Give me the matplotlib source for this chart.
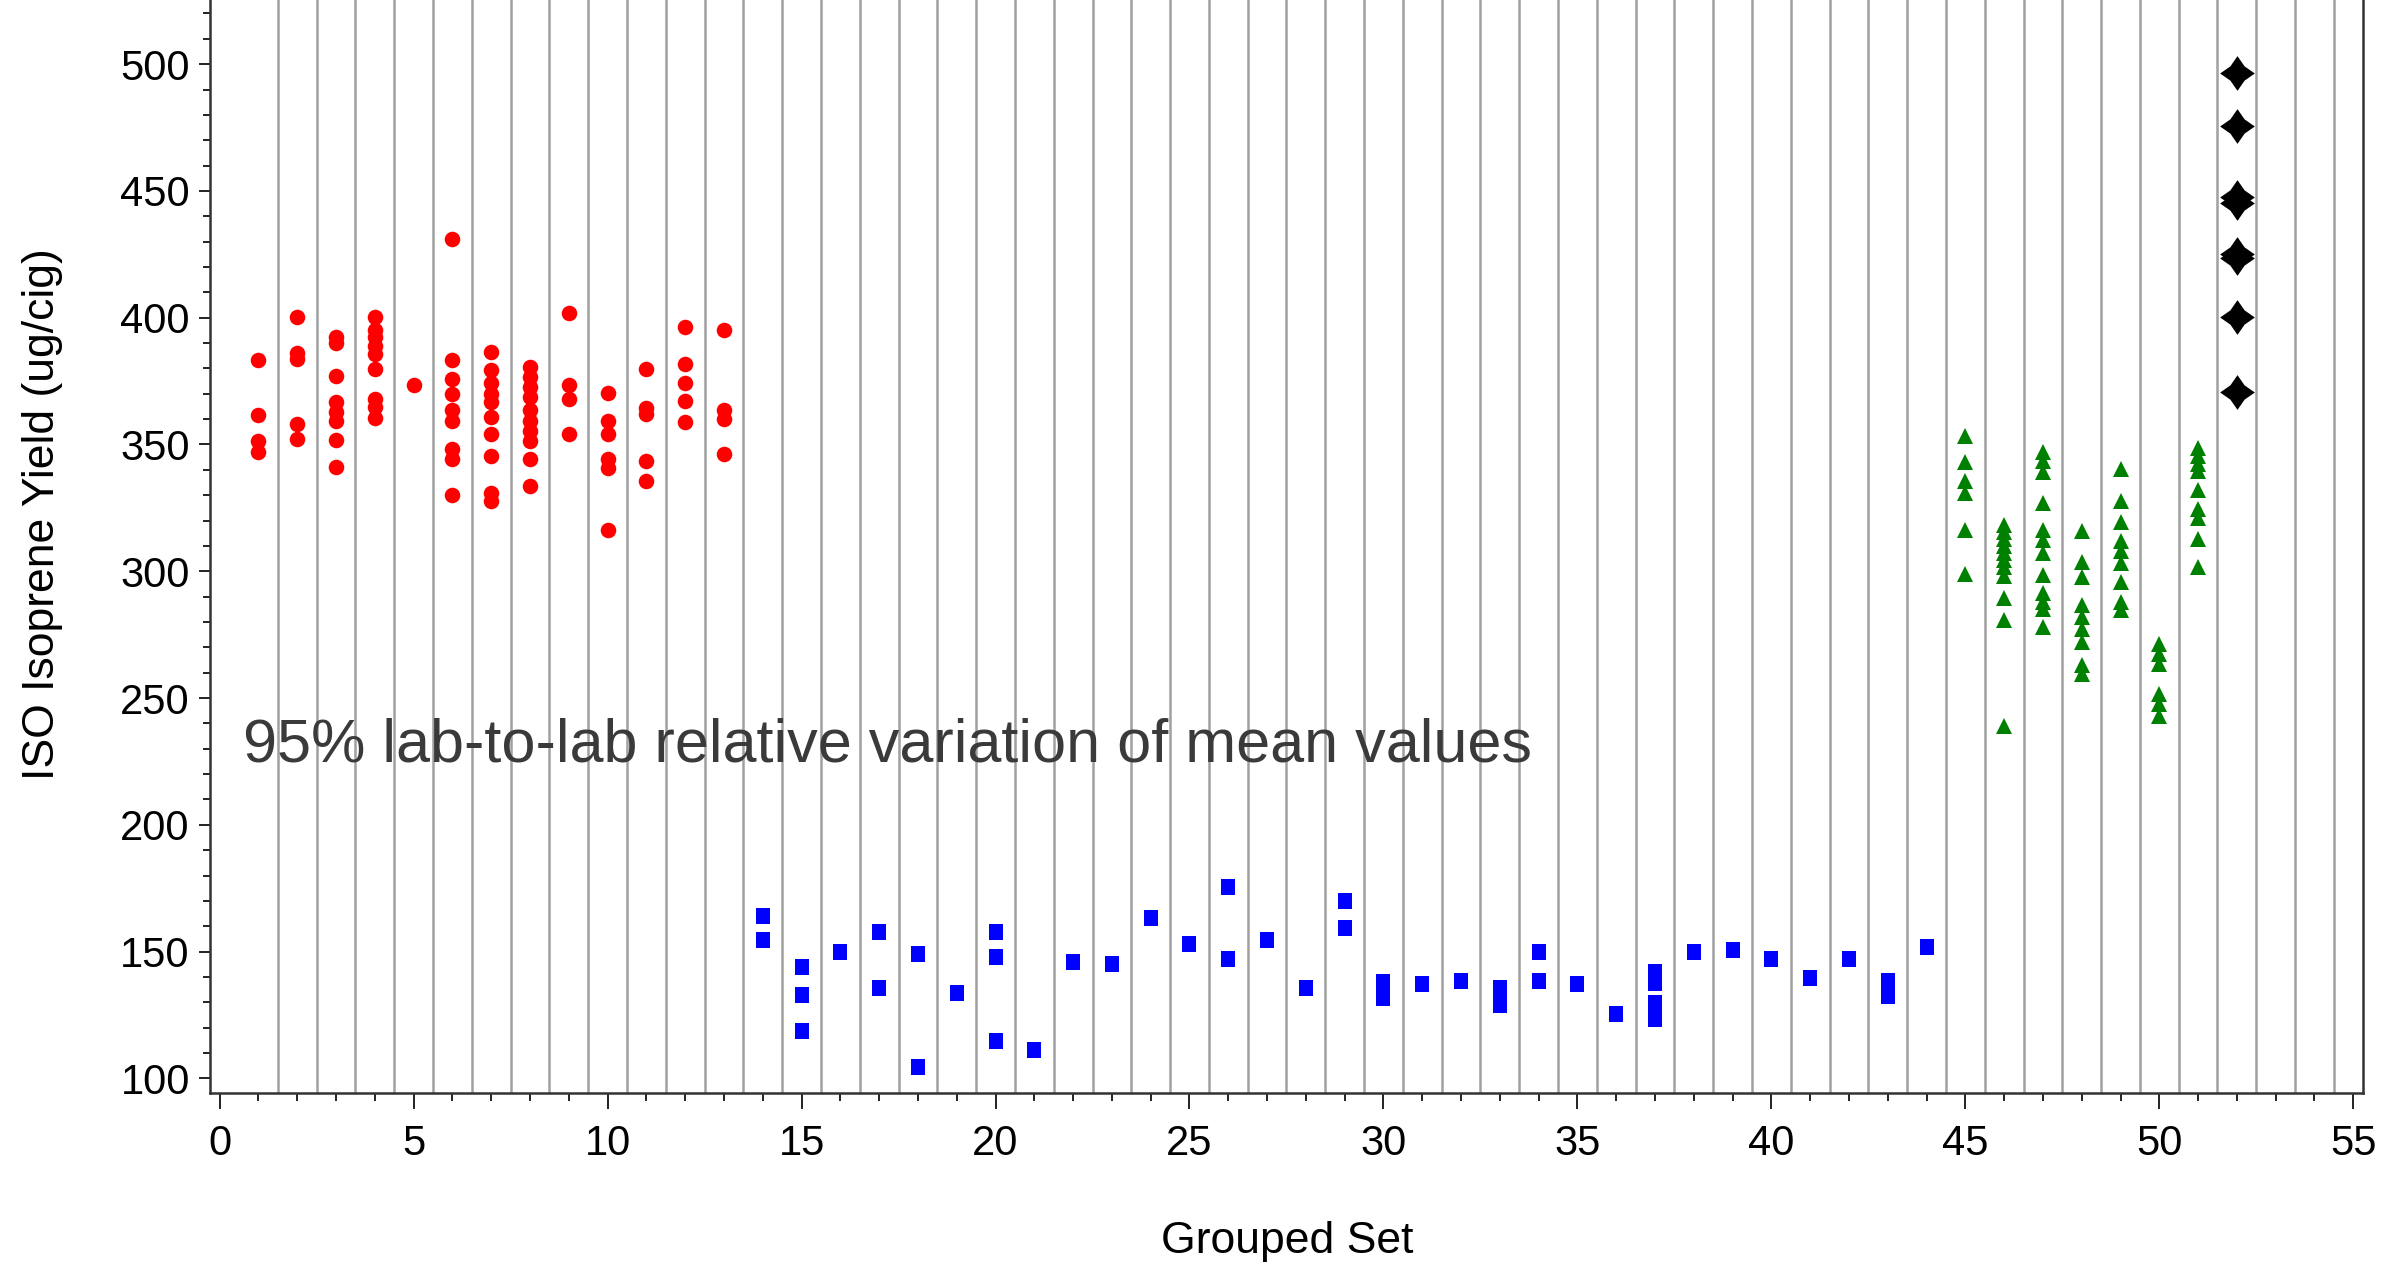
import numpy as np
import matplotlib
matplotlib.use('Agg')
import matplotlib.pyplot as plt
from matplotlib.path import Path
from matplotlib.ticker import MultipleLocator

plt.rcParams['font.family'] = ['Liberation Sans', 'DejaVu Sans']

# ISO isoprene yield (ug/cig) per grouped set
red_sets = list(range(1, 14))
red_vals = [
    [383.5, 361.7, 351.5, 347.2],
    [400.2, 386.1, 383.9, 358.1, 352.1],
    [392.2, 390.1, 376.9, 366.7, 362.7, 359.1, 351.7, 341.3],
    [400.4, 395.1, 392.2, 388.9, 385.6, 379.9, 368.0, 364.7, 360.5],
    [373.3],
    [431.1, 383.5, 376.0, 370.0, 363.4, 359.4, 348.2, 344.2, 330.0],
    [386.5, 379.2, 374.2, 370.0, 366.7, 360.7, 354.1, 345.5, 331.0, 327.9],
    [380.6, 376.6, 372.6, 368.7, 363.4, 359.4, 355.4, 351.5, 344.2, 333.6],
    [401.7, 373.3, 368.0, 354.1],
    [370.3, 359.1, 354.1, 344.2, 340.9, 316.4],
    [379.9, 364.4, 362.1, 343.5, 335.6],
    [396.4, 381.9, 374.2, 367.3, 358.7],
    [395.1, 363.4, 360.1, 346.2],
]

blue_sets = list(range(14, 45))
blue_vals = [
    [164.1, 154.5],
    [144.1, 132.7, 118.5],
    [149.9],
    [157.6, 135.6],
    [149.0, 104.3],
    [133.6],
    [157.6, 147.9, 114.7],
    [111.0],
    [146.0],
    [145.0],
    [163.1],
    [152.8],
    [175.5, 147.0],
    [154.5],
    [135.5],
    [169.9, 159.4],
    [138.1, 134.9, 131.8],
    [137.4],
    [138.3],
    [135.5, 132.2, 128.9],
    [149.9, 138.3],
    [137.4],
    [125.2],
    [142.0, 137.8, 129.9, 123.4],
    [149.9],
    [150.8],
    [147.0],
    [139.4],
    [147.0],
    [138.3, 132.5],
    [151.9],
]

green_sets = list(range(45, 52))
green_vals = [
    [353.5, 343.1, 335.6, 331.0, 316.2, 298.8],
    [318.4, 315.6, 312.8, 310.1, 307.2, 304.5, 301.6, 298.2, 289.6, 280.7, 239.0],
    [347.2, 343.3, 339.3, 327.0, 316.4, 312.5, 307.1, 298.6, 291.3, 288.0, 285.3, 278.1],
    [315.8, 303.8, 297.9, 286.7, 282.0, 277.4, 272.1, 262.9, 259.5],
    [340.2, 327.9, 319.4, 311.8, 307.8, 303.2, 295.9, 288.0, 284.7],
    [271.4, 267.5, 263.5, 251.6, 247.6, 243.0],
    [348.8, 345.5, 342.2, 339.6, 331.9, 324.4, 321.0, 312.9, 301.5],
]

black_sets = [52]
black_vals = [[496.4, 475.7, 447.7, 445.1, 425.1, 423.7, 400.4, 370.8]]

note = '95% lab-to-lab relative variation of mean values'


def flat(sets, vals):
    xs, ys = [], []
    for s, v in zip(sets, vals):
        xs += [s] * len(v)
        ys += v
    return xs, ys


rect = Path([(-0.44, -0.5), (0.44, -0.5), (0.44, 0.5), (-0.44, 0.5), (-0.44, -0.5)],
            [Path.MOVETO, Path.LINETO, Path.LINETO, Path.LINETO, Path.CLOSEPOLY])
ang = np.arange(8) * np.pi / 4 + np.pi / 2
rad = np.where(np.arange(8) % 2 == 0, 1.0, 0.58)
star_pts = list(zip(rad * np.cos(ang), rad * np.sin(ang)))
star = Path(star_pts + [star_pts[0]],
            [Path.MOVETO] + [Path.LINETO] * 7 + [Path.CLOSEPOLY])

fig = plt.figure(figsize=(23.97, 12.71), dpi=100)
ax = fig.add_axes([0.0876, 0.140, 0.8982, 0.860])

ax.set_xlim(-0.25, 55.25)
ax.set_ylim(94.2, 525.3)

for g in np.arange(1.5, 55, 1):
    ax.axvline(g, color='#a0a0a0', lw=1.8, zorder=1)

x, y = flat(red_sets, red_vals)
ax.plot(x, y, 'o', color='#ff0000', ms=11.2, mew=0, zorder=3)
x, y = flat(blue_sets, blue_vals)
ax.plot(x, y, ls='none', marker=rect, color='#0000ff', ms=12, mew=0, zorder=3)
x, y = flat(green_sets, green_vals)
ax.plot(x, y, '^', color='#008000', ms=12, mew=0, zorder=3)
x, y = flat(black_sets, black_vals)
ax.plot(x, y, ls='none', marker=star, color='#000000', ms=25, mew=0, zorder=3)

ax.text(0.6, 231, note, fontsize=44, color='#3a3a3a', ha='left', va='center')

ax.spines['top'].set_visible(False)
for s in ['left', 'right', 'bottom']:
    ax.spines[s].set_color('#333333')
    ax.spines[s].set_linewidth(1.8)

ax.xaxis.set_major_locator(MultipleLocator(5))
ax.xaxis.set_minor_locator(MultipleLocator(1))
ax.yaxis.set_major_locator(MultipleLocator(50))
ax.yaxis.set_minor_locator(MultipleLocator(10))
ax.tick_params(axis='x', which='major', length=11.5, width=1.4, pad=11, labelsize=30, colors='#222222')
ax.tick_params(axis='x', which='minor', length=5.8, width=1.4, colors='#222222')
ax.tick_params(axis='y', which='major', length=8, width=1.4, pad=6.5, labelsize=30, colors='#222222')
ax.tick_params(axis='y', which='minor', length=5, width=1.4, colors='#222222')
ax.tick_params(labelcolor='black')
ax.set_yticks(np.arange(100, 501, 50))

fig.text(43 / 2397, 1 - 514 / 1271, 'ISO Isoprene Yield (ug/cig)', rotation=90,
         ha='center', va='center', fontsize=32)
fig.text(0.537, 1 - 1241 / 1271, 'Grouped Set', ha='center', va='center', fontsize=32)

fig.savefig('out.png', dpi=100)
